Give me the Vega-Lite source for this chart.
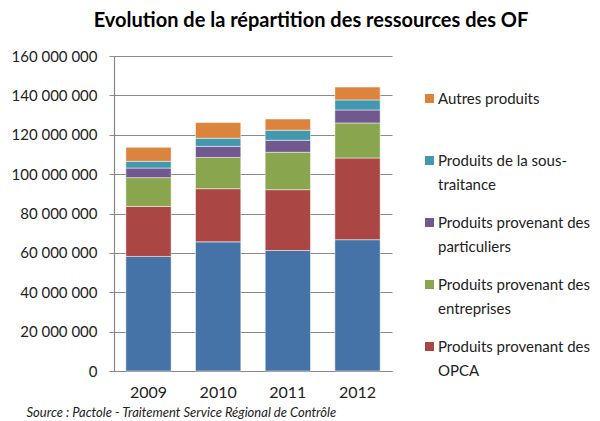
{
  "$schema": "https://vega.github.io/schema/vega-lite/v6.json",
  "autosize": "none",
  "width": 278,
  "height": 315,
  "padding": {"left": 114, "top": 56, "right": 208, "bottom": 50},
  "background": "white",
  "config": {
    "locale": {"number": {"decimal": ",", "thousands": " ", "grouping": [3], "currency": ["", " €"]}},
    "font": "Lato",
    "view": {"stroke": null},
    "style": {"guide-label": {"lineHeight": 24}}
  },
  "title": {
    "text": "Evolution de la répartition des ressources des OF",
    "font": "Lato",
    "fontSize": 20,
    "fontWeight": "bold",
    "color": "#000000",
    "anchor": "middle",
    "dx": 58,
    "offset": 18
  },
  "data": {
    "values": [
      {"annee": "2009", "serie": "Produits provenant des pouvoirs publics", "k": 1, "valeur": 58200000},
      {"annee": "2009", "serie": "Produits provenant des OPCA", "k": 2, "valeur": 25400000},
      {"annee": "2009", "serie": "Produits provenant des entreprises", "k": 3, "valeur": 14600000},
      {"annee": "2009", "serie": "Produits provenant des particuliers", "k": 4, "valeur": 4900000},
      {"annee": "2009", "serie": "Produits de la sous-traitance", "k": 5, "valeur": 3400000},
      {"annee": "2009", "serie": "Autres produits", "k": 6, "valeur": 7100000},
      {"annee": "2010", "serie": "Produits provenant des pouvoirs publics", "k": 1, "valeur": 65600000},
      {"annee": "2010", "serie": "Produits provenant des OPCA", "k": 2, "valeur": 27000000},
      {"annee": "2010", "serie": "Produits provenant des entreprises", "k": 3, "valeur": 15900000},
      {"annee": "2010", "serie": "Produits provenant des particuliers", "k": 4, "valeur": 5600000},
      {"annee": "2010", "serie": "Produits de la sous-traitance", "k": 5, "valeur": 4100000},
      {"annee": "2010", "serie": "Autres produits", "k": 6, "valeur": 8000000},
      {"annee": "2011", "serie": "Produits provenant des pouvoirs publics", "k": 1, "valeur": 61200000},
      {"annee": "2011", "serie": "Produits provenant des OPCA", "k": 2, "valeur": 30900000},
      {"annee": "2011", "serie": "Produits provenant des entreprises", "k": 3, "valeur": 19000000},
      {"annee": "2011", "serie": "Produits provenant des particuliers", "k": 4, "valeur": 6100000},
      {"annee": "2011", "serie": "Produits de la sous-traitance", "k": 5, "valeur": 5100000},
      {"annee": "2011", "serie": "Autres produits", "k": 6, "valeur": 5700000},
      {"annee": "2012", "serie": "Produits provenant des pouvoirs publics", "k": 1, "valeur": 66700000},
      {"annee": "2012", "serie": "Produits provenant des OPCA", "k": 2, "valeur": 41500000},
      {"annee": "2012", "serie": "Produits provenant des entreprises", "k": 3, "valeur": 17800000},
      {"annee": "2012", "serie": "Produits provenant des particuliers", "k": 4, "valeur": 6600000},
      {"annee": "2012", "serie": "Produits de la sous-traitance", "k": 5, "valeur": 5100000},
      {"annee": "2012", "serie": "Autres produits", "k": 6, "valeur": 6500000}
    ]
  },
  "mark": {"type": "bar", "stroke": "white", "strokeWidth": 0.5},
  "encoding": {
    "x": {
      "field": "annee",
      "type": "ordinal",
      "scale": {"paddingInner": 0.35, "paddingOuter": 0.17},
      "axis": {
        "title": "Source : Pactole - Traitement Service Régional de Contrôle",
        "titleFont": "Lato",
        "titleFontSize": 13,
        "titleFontStyle": "italic",
        "titleFontWeight": "normal",
        "titleColor": "#222222",
        "titleAnchor": "start",
        "titleAlign": "left",
        "titleBaseline": "alphabetic",
        "titleX": -88,
        "titleY": 45,
        "labelAngle": 0,
        "labelFontSize": 16,
        "labelColor": "#222222",
        "labelPadding": 13,
        "ticks": false,
        "domainColor": "#878787",
        "domainWidth": 1.2
      }
    },
    "y": {
      "field": "valeur",
      "type": "quantitative",
      "aggregate": "sum",
      "stack": "zero",
      "scale": {"domain": [0, 160000000], "nice": false},
      "axis": {
        "title": null,
        "values": [0, 20000000, 40000000, 60000000, 80000000, 100000000, 120000000, 140000000, 160000000],
        "format": ",d",
        "labelFontSize": 15,
        "labelColor": "#222222",
        "labelPadding": 12,
        "tickSize": 5,
        "tickColor": "#878787",
        "domainColor": "#878787",
        "domainWidth": 1.2,
        "gridColor": "#8a8a8a",
        "gridWidth": 1
      }
    },
    "color": {
      "field": "serie",
      "type": "nominal",
      "scale": {
        "domain": ["Autres produits", "Produits de la sous-traitance", "Produits provenant des particuliers", "Produits provenant des entreprises", "Produits provenant des OPCA", "Produits provenant des pouvoirs publics"],
        "range": ["#DB843D", "#4198AF", "#71588F", "#89A54E", "#AA4643", "#4572A7"]
      },
      "legend": {
        "title": null,
        "orient": "none",
        "legendX": 308,
        "legendY": 35,
        "padding": 0,
        "values": ["Autres produits", "Produits de la sous-traitance", "Produits provenant des particuliers", "Produits provenant des entreprises", "Produits provenant des OPCA"],
        "symbolType": "square",
        "symbolSize": 81,
        "symbolStrokeWidth": 0,
        "labelFontSize": 15,
        "labelColor": "#222222",
        "labelLimit": 300,
        "labelOffset": 1,
        "labelBaseline": "middle",
        "gridAlign": "all",
        "rowPadding": 22,
        "labelExpr": "datum.label == 'Produits de la sous-traitance' ? ['Produits de la sous-', 'traitance'] : (indexof(datum.label, 'Produits provenant des ') == 0 ? ['Produits provenant des', substring(datum.label, 23)] : [datum.label, ' '])"
      }
    },
    "order": {"field": "k", "type": "quantitative", "sort": "ascending"}
  }
}
